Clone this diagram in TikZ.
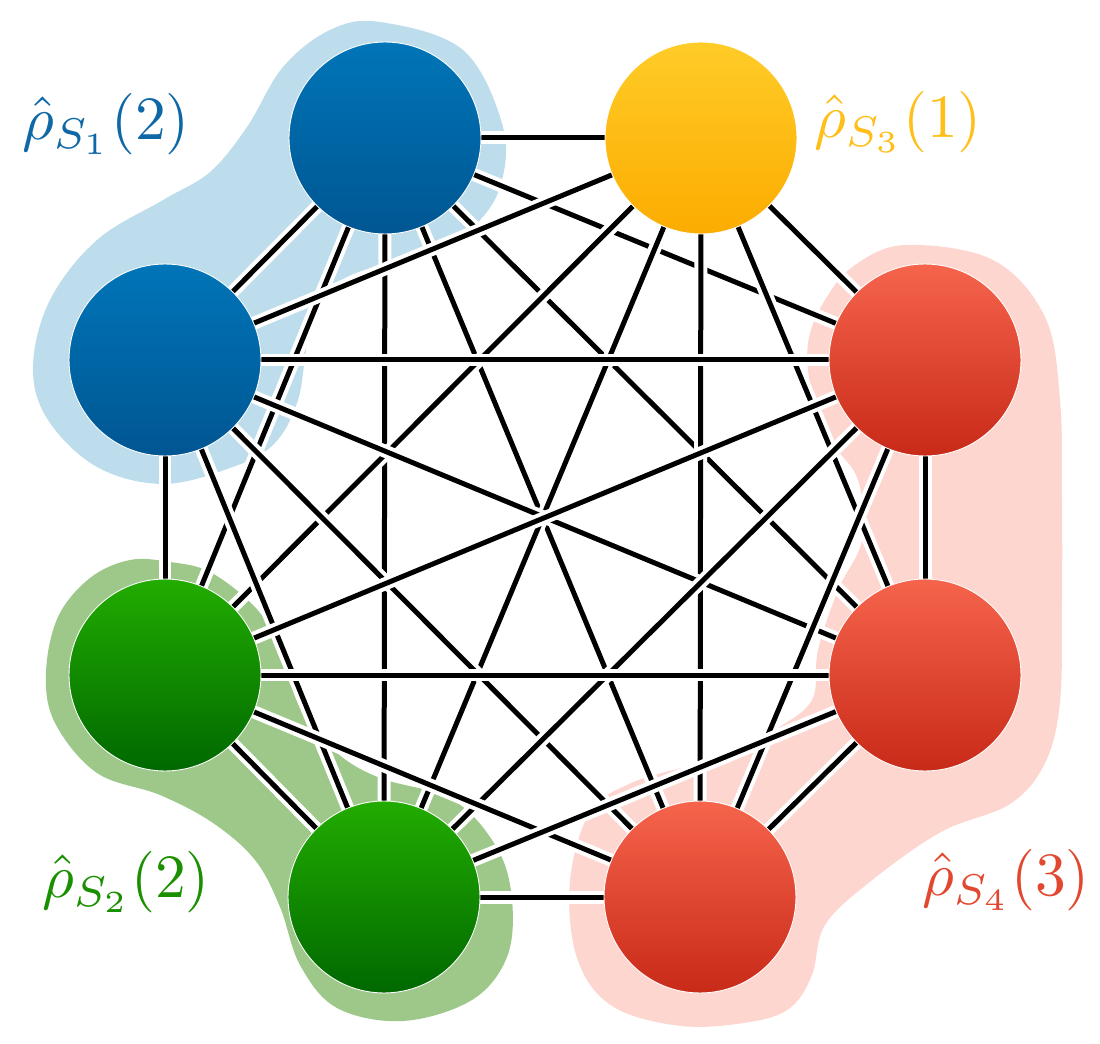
\documentclass[tikz,border=0pt]{standalone}
\usepackage{graphicx}
\pgfdeclarelayer{blobs}
\pgfdeclarelayer{edges}
\pgfsetlayers{blobs,edges,main}
\definecolor{blobblue}{RGB}{189,221,236}
\definecolor{blobgreen}{RGB}{157,200,138}
\definecolor{blobpink}{RGB}{253,214,208}
\definecolor{bluetop}{RGB}{0,117,184}
\definecolor{bluebot}{RGB}{0,86,146}
\definecolor{yeltop}{RGB}{255,204,40}
\definecolor{yelbot}{RGB}{252,172,0}
\definecolor{redtop}{RGB}{246,100,76}
\definecolor{redbot}{RGB}{200,42,24}
\definecolor{greentop}{RGB}{34,172,0}
\definecolor{greenbot}{RGB}{0,104,0}
\definecolor{lblue}{RGB}{14,104,166}
\definecolor{lyellow}{RGB}{255,190,24}
\definecolor{lgreen}{RGB}{26,143,0}
\definecolor{lred}{RGB}{226,72,48}
\tikzset{
  ball/.style={circle, minimum size=3.84cm, inner sep=0pt, outer sep=0pt, draw=white, line width=0.5pt},
  bluebb/.style={ball, top color=bluetop, bottom color=bluebot},
  yelbb/.style={ball, top color=yeltop, bottom color=yelbot},
  redbb/.style={ball, top color=redtop, bottom color=redbot},
  greenbb/.style={ball, top color=greentop, bottom color=greenbot},
  edge/.style={line width=0.1cm, black, preaction={draw=white, line width=0.26cm}},
  lbl/.style={inner sep=0pt}
}
\newcommand{\biglbl}[1]{\scalebox{3.5}{#1}}
\begin{document}
\begin{tikzpicture}[x=0.02cm,y=-0.02cm]
\useasboundingbox (0,0) rectangle (1100,1044);
% nodes
\node[bluebb]  (n1) at (385,138) {};
\node[yelbb]   (n2) at (701,138) {};
\node[bluebb]  (n3) at (165,360) {};
\node[redbb]   (n4) at (925,360) {};
\node[greenbb] (n5) at (165,675) {};
\node[redbb]   (n6) at (925,675) {};
\node[greenbb] (n7) at (384,897) {};
\node[redbb]   (n8) at (700,897) {};
% blobs
\begin{pgfonlayer}{blobs}
  \fill[blobblue] plot[smooth cycle, tension=0.6] coordinates {
    (380,22) (463,50) (503,127) (500,187) (473,227) (430,252) (380,265)
    (335,285) (310,330) (298,400) (273,445) (230,468) (163,484) (97,467)
    (48,420) (33,367) (50,300) (97,240) (163,200) (210,172) (247,127)
    (283,67) (330,30)};
  \fill[blobgreen] plot[smooth cycle, tension=0.6] coordinates {
    (130,560) (170,562) (210,572) (253,605) (277,640) (288,675) (303,713)
    (337,753) (380,778) (453,800) (497,848) (512,900) (507,957) (472,1000)
    (403,1021) (337,1008) (300,965) (280,907) (255,860) (213,823) (160,795)
    (97,773) (55,723) (46,673) (58,617) (90,578)};
  \fill[blobpink] plot[smooth cycle, tension=0.6] coordinates {
    (906,245) (993,260) (1045,317) (1060,400) (1062,500) (1062,600)
    (1060,702) (1045,763) (1010,804) (941,832) (871,881) (825,925)
    (812,975) (790,1008) (750,1022) (681,1026) (612,1006) (577,958)
    (570,881) (590,812) (629,784) (681,768) (733,756) (775,730) (812,700)
    (818,650) (838,590) (862,540) (858,480) (830,440) (812,394) (808,343)
    (825,300) (855,265)};
\end{pgfonlayer}
% edges
\begin{pgfonlayer}{edges}
  \foreach \i in {1,...,7}{
    \pgfmathtruncatemacro\k{\i+1}
    \foreach \j in {\k,...,8}{
      \draw[edge] (n\i) -- (n\j);
    }
  }
\end{pgfonlayer}
% labels
\node[lbl, text=lblue]   (l1) at (106,124) {\biglbl{$\hat\rho_{S_1}(2)$}};
\node[lbl, text=lyellow] (l3) at (898,122) {\biglbl{$\hat\rho_{S_3}(1)$}};
\node[lbl, text=lgreen]  (l2) at (126,882) {\biglbl{$\hat\rho_{S_2}(2)$}};
\node[lbl, text=lred]    (l4) at (1006,880) {\biglbl{$\hat\rho_{S_4}(3)$}};
\end{tikzpicture}
\end{document}
